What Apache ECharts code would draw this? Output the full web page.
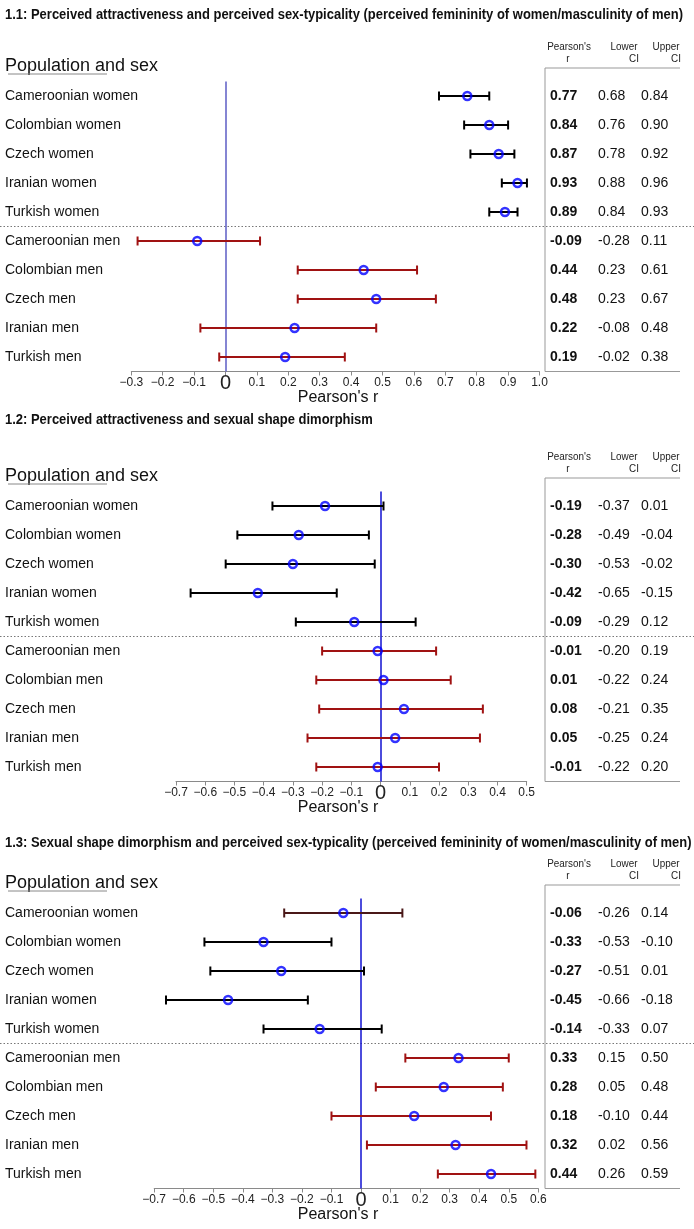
<!DOCTYPE html>
<html><head><meta charset="utf-8">
<script src="https://cdn.jsdelivr.net/npm/echarts/dist/echarts.min.js"></script>
<style>html,body{margin:0;padding:0;background:#fff}#c{width:694px;height:1229px}</style>
</head><body><div id="c"></div>
<script>
// ---------- DATA ----------
const categories = ['Cameroonian women','Colombian women','Czech women','Iranian women','Turkish women',
                    'Cameroonian men','Colombian men','Czech men','Iranian men','Turkish men'];
const panelTitles = [
  '1.1: Perceived attractiveness and perceived sex-typicality (perceived femininity of women/masculinity of men)',
  '1.2: Perceived attractiveness and sexual shape dimorphism',
  '1.3: Sexual shape dimorphism and perceived sex-typicality (perceived femininity of women/masculinity of men)'
];
// Panel 1.1
const r1  = [0.77, 0.84, 0.87, 0.93, 0.89, -0.09, 0.44, 0.48, 0.22, 0.19];
const lo1 = [0.68, 0.76, 0.78, 0.88, 0.84, -0.28, 0.23, 0.23, -0.08, -0.02];
const hi1 = [0.84, 0.90, 0.92, 0.96, 0.93, 0.11, 0.61, 0.67, 0.48, 0.38];
// Panel 1.2
const r2  = [-0.19, -0.28, -0.30, -0.42, -0.09, -0.01, 0.01, 0.08, 0.05, -0.01];
const lo2 = [-0.37, -0.49, -0.53, -0.65, -0.29, -0.20, -0.22, -0.21, -0.25, -0.22];
const hi2 = [0.01, -0.04, -0.02, -0.15, 0.12, 0.19, 0.24, 0.35, 0.34, 0.20];      // as drawn
const hi2Table = [0.01, -0.04, -0.02, -0.15, 0.12, 0.19, 0.24, 0.35, 0.24, 0.20]; // as printed
// Panel 1.3
const r3  = [-0.06, -0.33, -0.27, -0.45, -0.14, 0.33, 0.28, 0.18, 0.32, 0.44];
const lo3 = [-0.26, -0.53, -0.51, -0.66, -0.33, 0.15, 0.05, -0.10, 0.02, 0.26];
const hi3 = [0.14, -0.10, 0.01, -0.18, 0.07, 0.50, 0.48, 0.44, 0.56, 0.59];
// Axis ranges / tick step
const axisMin = [-0.3, -0.7, -0.7];
const axisMax = [1.0, 0.5, 0.6];
const tickStep = 0.1;
const tableHeaders = [["Pearson's", 'r'], ['Lower', 'CI'], ['Upper', 'CI']];
const axisName = "Pearson's r";
const leftHeader = 'Population and sex';

// ---------- LAYOUT / STYLE ----------
const SANS = "'Liberation Sans', Arial, sans-serif";
const rowH = 29, nRows = categories.length, gridH = rowH * nRows;
const panels = [
  {top: 81.5, left: 131.3, right: 539.5, titleY: 15, r: r1, lo: lo1, hi: hi1, hiT: hi1, zero: '#5d5dc4'},
  {top: 491.5, left: 176, right: 526.7, titleY: 420, r: r2, lo: lo2, hi: hi2, hiT: hi2Table, zero: '#1010d0'},
  {top: 898.5, left: 154.2, right: 538.3, titleY: 843, r: r3, lo: lo3, hi: hi3, hiT: hi3, zero: '#1010d0'}
];
const womenColor = '#000000', menColor = '#a01212';
const specialColor = {'2-0': '#4a1818'};
function barColor(p, k) {
  return specialColor[p + '-' + k] || (k < 5 ? womenColor : menColor);
}
const tableX = {r: 550, lo: 598, hi: 641, border: 545, end: 680};
const NARROW_SCALE = 0.86;

function tickFmt(v) {
  if (Math.abs(v) < 1e-9) return '{z|0}';
  return (v < 0 ? '\u2212' : '') + Math.abs(v).toFixed(1);
}

const grids = [], xAxes = [], yAxes = [], series = [], graphics = [];
panels.forEach((P, i) => {
  grids.push({left: P.left, top: P.top, width: P.right - P.left, height: gridH});
  xAxes.push({
    type: 'value', gridIndex: i, min: axisMin[i], max: axisMax[i], interval: tickStep,
    splitLine: {show: false},
    axisLine: {show: true, onZero: false, lineStyle: {color: '#8a8a8a', width: 1}},
    axisTick: {show: true, length: 4, lineStyle: {color: '#8a8a8a'}},
    axisLabel: {
      formatter: tickFmt, fontFamily: SANS, fontSize: 12, color: '#222', margin: 5,
      showMinLabel: true, showMaxLabel: true,
      rich: {z: {fontSize: 20, fontFamily: SANS, color: '#222', lineHeight: 13}}
    }
  });
  yAxes.push({
    type: 'category', gridIndex: i, data: categories, inverse: true,
    axisLine: {show: false}, axisTick: {show: false}, splitLine: {show: false},
    axisLabel: {align: 'left', margin: P.left - 5, fontFamily: SANS, fontSize: 14, color: '#111'}
  });
  // error bars
  series.push({
    type: 'custom', xAxisIndex: i, yAxisIndex: i, z: 3,
    data: categories.map((c, k) => [P.lo[k], P.hi[k], k]),
    encode: {x: [0, 1], y: 2},
    renderItem: (params, api) => {
      const k = api.value(2);
      const a = api.coord([api.value(0), k]);
      const b = api.coord([api.value(1), k]);
      const st = {stroke: barColor(i, k), lineWidth: 2};
      return {type: 'group', children: [
        {type: 'line', shape: {x1: a[0], y1: a[1], x2: b[0], y2: b[1]}, style: st},
        {type: 'line', shape: {x1: a[0], y1: a[1] - 4.5, x2: a[0], y2: a[1] + 4.5}, style: st},
        {type: 'line', shape: {x1: b[0], y1: b[1] - 4.5, x2: b[0], y2: b[1] + 4.5}, style: st}
      ]};
    }
  });
  // points + zero line
  series.push({
    type: 'scatter', xAxisIndex: i, yAxisIndex: i, z: 5,
    data: P.r.map((v, k) => [v, k]),
    symbol: 'circle', symbolSize: 8,
    itemStyle: {color: 'rgba(0,0,0,0)', borderColor: '#0000ff', borderWidth: 2.5},
    markLine: {silent: true, symbol: 'none', label: {show: false}, z: 2,
      lineStyle: {color: P.zero, width: 1.5, type: 'solid'}, data: [{xAxis: 0}]}
  });
  // table text
  series.push({
    type: 'custom', xAxisIndex: i, yAxisIndex: i, z: 4,
    data: categories.map((c, k) => [0, k]),
    encode: {x: 0, y: 1},
    renderItem: (params, api) => {
      const k = api.value(1);
      const y = api.coord([0, k])[1];
      const t = (x, s, bold) => ({type: 'text', x: x, y: y,
        style: {text: s, fill: '#111', font: (bold ? 'bold ' : '') + '14px ' + SANS,
                align: 'left', verticalAlign: 'middle'}});
      return {type: 'group', children: [
        t(tableX.r, P.r[k].toFixed(2), true),
        t(tableX.lo, P.lo[k].toFixed(2), false),
        t(tableX.hi, P.hiT[k].toFixed(2), false)
      ]};
    }
  });

  const row0 = P.top + rowH / 2, axisY = P.top + gridH;
  // title (condensed look via horizontal scale)
  graphics.push({type: 'text', x: 5, y: P.titleY, scaleX: 0.895,
    style: {text: panelTitles[i], font: 'bold 14.5px ' + SANS, fill: '#111', textVerticalAlign: 'middle'}});
  // left header
  graphics.push({type: 'text', x: 5, y: row0 - 30,
    style: {text: leftHeader, font: '18px ' + SANS, fill: '#111', textVerticalAlign: 'middle'}});
  graphics.push({type: 'line', shape: {x1: 8, y1: row0 - 22, x2: 107, y2: row0 - 22},
    style: {stroke: '#888', lineWidth: 1}});
  // table headers
  const hx = [569, 624, 666], hx2 = [568, 634, 676];
  tableHeaders.forEach((h, j) => {
    graphics.push({type: 'text', x: hx[j], y: row0 - 49, scaleX: NARROW_SCALE,
      style: {text: h[0], font: '11.5px ' + SANS, fill: '#222', textAlign: 'center', textVerticalAlign: 'middle'}});
    graphics.push({type: 'text', x: hx2[j], y: row0 - 37, scaleX: NARROW_SCALE,
      style: {text: h[1], font: '11.5px ' + SANS, fill: '#222', textAlign: 'center', textVerticalAlign: 'middle'}});
  });
  // table borders
  graphics.push({type: 'line', shape: {x1: tableX.border, y1: row0 - 28, x2: tableX.end, y2: row0 - 28},
    style: {stroke: '#999', lineWidth: 1}});
  graphics.push({type: 'line', shape: {x1: tableX.border, y1: row0 - 28, x2: tableX.border, y2: axisY},
    style: {stroke: '#999', lineWidth: 1}});
  graphics.push({type: 'line', shape: {x1: tableX.border, y1: axisY, x2: tableX.end, y2: axisY},
    style: {stroke: '#999', lineWidth: 1}});
  // dotted separator
  graphics.push({type: 'line', shape: {x1: 0, y1: P.top + 5 * rowH, x2: 694, y2: P.top + 5 * rowH},
    style: {stroke: '#777', lineWidth: 1, lineDash: [1.5, 2]}});
  // axis name
  graphics.push({type: 'text', x: 338, y: axisY + 26,
    style: {text: axisName, font: '16px ' + SANS, fill: '#111', textAlign: 'center', textVerticalAlign: 'middle'}});
});

const chart = echarts.init(document.getElementById('c'), null, {renderer: 'canvas'});
chart.setOption({
  animation: false, backgroundColor: '#fff',
  grid: grids, xAxis: xAxes, yAxis: yAxes, series: series, graphic: graphics
});
</script></body></html>
